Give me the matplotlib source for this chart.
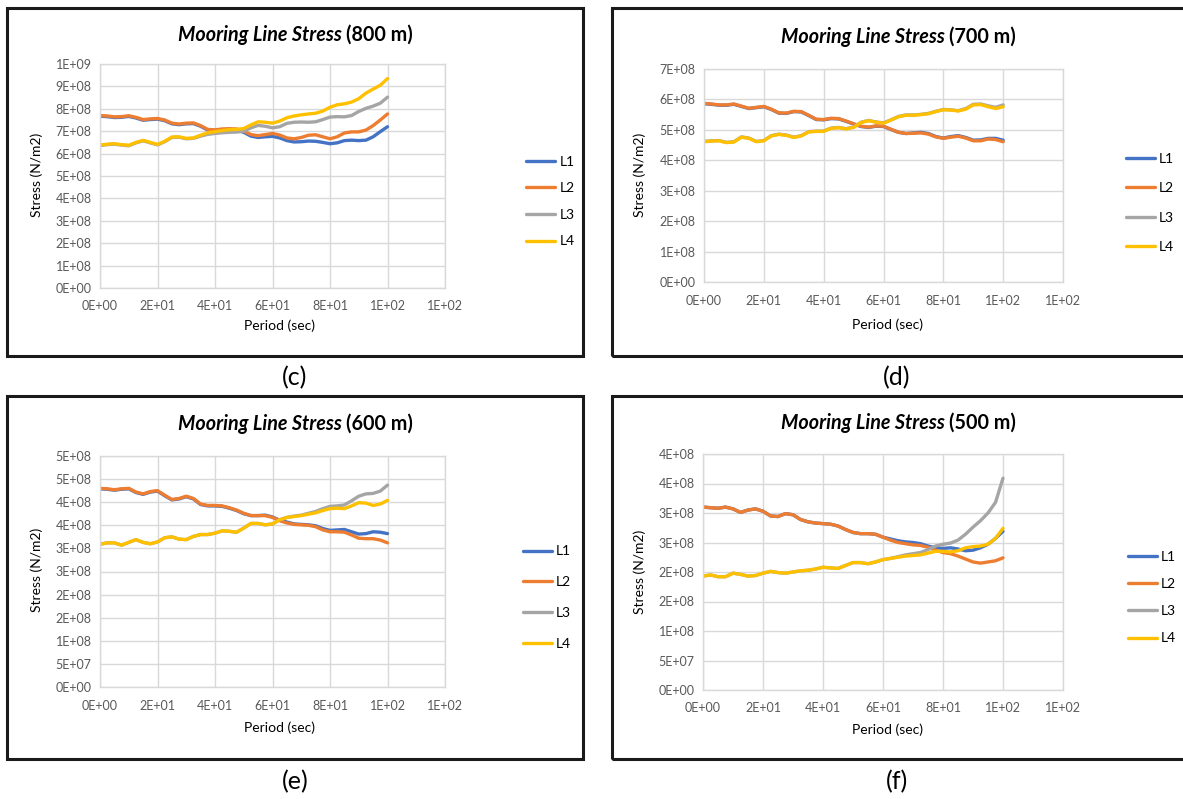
import matplotlib
matplotlib.use("Agg")
import matplotlib.pyplot as plt
from matplotlib.patches import Rectangle
from matplotlib.ticker import MultipleLocator, FuncFormatter
from matplotlib.offsetbox import TextArea, HPacker, AnnotationBbox
import math

plt.rcParams['font.family'] = ['Lato', 'DejaVu Sans']

# period (sec), shared by every series
period = [0, 2.5, 5, 7.5, 10, 12.5, 15, 17.5, 20, 22.5, 25, 27.5, 30, 32.5, 35,
          37.5, 40, 42.5, 45, 47.5, 50, 52.5, 55, 57.5, 60, 62.5, 65, 67.5, 70,
          72.5, 75, 77.5, 80, 82.5, 85, 87.5, 90, 92.5, 95, 97.5, 100]

line_names = ["L1", "L2", "L3", "L4"]
line_colors = ["#4472C4", "#ED7D31", "#A5A5A5", "#FFC000"]

# stress in units of 1e8 N/m2
# 800 m
l1_800 = [7.67, 7.65, 7.61, 7.62, 7.66, 7.59, 7.49, 7.52, 7.54, 7.47, 7.33, 7.29, 7.33, 7.34,
          7.22, 7.05, 7.03, 7.07, 7.08, 7.05, 6.95, 6.78, 6.72, 6.75, 6.77, 6.70, 6.58, 6.52,
          6.53, 6.56, 6.55, 6.50, 6.44, 6.48, 6.58, 6.60, 6.58, 6.60, 6.75, 6.98, 7.20]
l2_800 = [7.70, 7.68, 7.64, 7.65, 7.69, 7.62, 7.52, 7.55, 7.57, 7.50, 7.36, 7.32, 7.36, 7.37,
          7.25, 7.08, 7.06, 7.10, 7.11, 7.10, 7.00, 6.85, 6.80, 6.85, 6.90, 6.83, 6.70, 6.66,
          6.72, 6.82, 6.84, 6.75, 6.66, 6.75, 6.92, 6.97, 6.97, 7.05, 7.25, 7.50, 7.77]
l3_800 = [6.36, 6.40, 6.42, 6.38, 6.35, 6.48, 6.57, 6.48, 6.39, 6.53, 6.72, 6.73, 6.66, 6.68,
          6.78, 6.86, 6.90, 6.93, 6.95, 6.96, 7.00, 7.15, 7.26, 7.22, 7.15, 7.20, 7.35, 7.40,
          7.41, 7.40, 7.42, 7.52, 7.63, 7.65, 7.64, 7.70, 7.88, 8.02, 8.12, 8.25, 8.52]
l4_800 = [6.38, 6.42, 6.44, 6.40, 6.37, 6.50, 6.59, 6.50, 6.41, 6.55, 6.74, 6.75, 6.68, 6.70,
          6.82, 6.93, 6.98, 7.03, 7.07, 7.08, 7.12, 7.28, 7.42, 7.40, 7.36, 7.45, 7.60, 7.68,
          7.73, 7.77, 7.80, 7.90, 8.07, 8.18, 8.22, 8.30, 8.45, 8.70, 8.88, 9.05, 9.35]

# 700 m
l1_700 = [5.86, 5.84, 5.81, 5.81, 5.84, 5.77, 5.70, 5.73, 5.76, 5.67, 5.55, 5.54, 5.60, 5.59,
          5.47, 5.34, 5.33, 5.37, 5.36, 5.28, 5.19, 5.11, 5.08, 5.12, 5.11, 5.01, 4.92, 4.88,
          4.90, 4.92, 4.88, 4.78, 4.73, 4.78, 4.81, 4.75, 4.66, 4.67, 4.72, 4.72, 4.66]
l2_700 = [5.87, 5.85, 5.82, 5.82, 5.85, 5.78, 5.71, 5.74, 5.77, 5.68, 5.56, 5.55, 5.61, 5.60,
          5.48, 5.35, 5.34, 5.38, 5.37, 5.29, 5.20, 5.12, 5.09, 5.13, 5.12, 5.02, 4.92, 4.88,
          4.89, 4.90, 4.86, 4.77, 4.72, 4.76, 4.79, 4.73, 4.64, 4.64, 4.70, 4.68, 4.61]
l3_700 = [4.62, 4.64, 4.65, 4.59, 4.61, 4.77, 4.73, 4.62, 4.65, 4.81, 4.86, 4.83, 4.76, 4.81,
          4.94, 4.96, 4.96, 5.06, 5.08, 5.04, 5.09, 5.25, 5.31, 5.26, 5.23, 5.33, 5.44, 5.49,
          5.49, 5.51, 5.54, 5.61, 5.67, 5.66, 5.63, 5.70, 5.84, 5.85, 5.79, 5.74, 5.82]
l4_700 = [4.61, 4.63, 4.64, 4.58, 4.60, 4.76, 4.72, 4.61, 4.64, 4.80, 4.85, 4.82, 4.75, 4.80,
          4.93, 4.95, 4.95, 5.05, 5.07, 5.03, 5.08, 5.24, 5.30, 5.25, 5.22, 5.32, 5.43, 5.48,
          5.48, 5.50, 5.53, 5.60, 5.66, 5.65, 5.62, 5.68, 5.82, 5.83, 5.76, 5.70, 5.76]

# 600 m
l1_600 = [4.29, 4.28, 4.26, 4.28, 4.29, 4.21, 4.17, 4.22, 4.24, 4.14, 4.05, 4.07, 4.12, 4.07,
          3.95, 3.92, 3.92, 3.91, 3.87, 3.82, 3.75, 3.71, 3.71, 3.72, 3.68, 3.61, 3.57, 3.53,
          3.52, 3.51, 3.49, 3.43, 3.39, 3.40, 3.41, 3.36, 3.31, 3.32, 3.36, 3.35, 3.32]
l2_600 = [4.30, 4.29, 4.27, 4.29, 4.30, 4.22, 4.18, 4.23, 4.25, 4.15, 4.06, 4.08, 4.13, 4.08,
          3.96, 3.93, 3.93, 3.92, 3.88, 3.83, 3.76, 3.71, 3.71, 3.71, 3.67, 3.60, 3.55, 3.52,
          3.51, 3.50, 3.47, 3.40, 3.36, 3.36, 3.35, 3.29, 3.22, 3.21, 3.21, 3.18, 3.12]
l3_600 = [3.09, 3.12, 3.12, 3.07, 3.13, 3.19, 3.13, 3.10, 3.14, 3.23, 3.25, 3.20, 3.19, 3.26,
          3.30, 3.30, 3.33, 3.38, 3.37, 3.35, 3.44, 3.54, 3.54, 3.51, 3.53, 3.62, 3.67, 3.70,
          3.72, 3.76, 3.80, 3.86, 3.91, 3.92, 3.94, 4.03, 4.13, 4.18, 4.19, 4.24, 4.37]
l4_600 = [3.09, 3.12, 3.12, 3.07, 3.13, 3.19, 3.13, 3.10, 3.14, 3.23, 3.25, 3.20, 3.19, 3.26,
          3.30, 3.30, 3.33, 3.38, 3.37, 3.35, 3.44, 3.54, 3.54, 3.51, 3.53, 3.62, 3.67, 3.69,
          3.71, 3.74, 3.77, 3.82, 3.86, 3.87, 3.86, 3.92, 3.99, 3.98, 3.93, 3.96, 4.04]

# 500 m
l1_500 = [3.10, 3.09, 3.08, 3.10, 3.07, 3.01, 3.05, 3.07, 3.03, 2.95, 2.94, 2.99, 2.97, 2.89,
          2.85, 2.83, 2.82, 2.81, 2.78, 2.72, 2.67, 2.65, 2.65, 2.64, 2.59, 2.56, 2.53, 2.51,
          2.50, 2.48, 2.44, 2.41, 2.40, 2.41, 2.39, 2.36, 2.37, 2.41, 2.47, 2.57, 2.69]
l2_500 = [3.10, 3.09, 3.08, 3.10, 3.07, 3.01, 3.05, 3.07, 3.03, 2.95, 2.94, 2.99, 2.97, 2.89,
          2.85, 2.83, 2.82, 2.81, 2.78, 2.72, 2.67, 2.65, 2.65, 2.64, 2.59, 2.54, 2.50, 2.48,
          2.46, 2.45, 2.42, 2.37, 2.33, 2.31, 2.27, 2.22, 2.17, 2.15, 2.17, 2.19, 2.24]
l3_500 = [1.93, 1.95, 1.92, 1.92, 1.98, 1.96, 1.93, 1.94, 1.98, 2.01, 1.99, 1.98, 2.00, 2.02,
          2.03, 2.05, 2.08, 2.07, 2.06, 2.11, 2.16, 2.16, 2.14, 2.17, 2.21, 2.23, 2.26, 2.29,
          2.31, 2.33, 2.38, 2.44, 2.47, 2.49, 2.54, 2.64, 2.76, 2.87, 3.00, 3.18, 3.59]
l4_500 = [1.93, 1.95, 1.92, 1.92, 1.98, 1.96, 1.93, 1.94, 1.98, 2.01, 1.99, 1.98, 2.00, 2.02,
          2.03, 2.05, 2.08, 2.07, 2.06, 2.11, 2.16, 2.16, 2.14, 2.17, 2.21, 2.23, 2.25, 2.27,
          2.28, 2.29, 2.32, 2.35, 2.35, 2.34, 2.36, 2.41, 2.43, 2.44, 2.47, 2.57, 2.74]

depth_labels = ["800 m", "700 m", "600 m", "500 m"]
captions = ["(c)", "(d)", "(e)", "(f)"]
panel_series = [[l1_800, l2_800, l3_800, l4_800],
                [l1_700, l2_700, l3_700, l4_700],
                [l1_600, l2_600, l3_600, l4_600],
                [l1_500, l2_500, l3_500, l4_500]]
y_max = [1e9, 7e8, 5e8, 4e8]
y_step = [1e8, 1e8, 5e7, 5e7]

W, H = 1183, 799


def sci0(v, pos=None):
    # "0E+00" number format, mantissa rounded half up
    v = float(v)
    if abs(v) < 1e-9:
        return "0E+00"
    e = int(math.floor(math.log10(abs(v))))
    m = int(math.floor(v / 10 ** e + 0.5 + 1e-9))
    if m == 10:
        m, e = 1, e + 1
    return f"{m}E{e:+03d}"


def fx(px):
    return px / W


def fy(py):
    return 1 - py / H


fig = plt.figure(figsize=(W / 100, H / 100), dpi=100)
fig.patch.set_facecolor("white")

# pixel layout of each panel: frame (x0, x1, y0, y1), plot (left, right, top, bottom)
frames = [(7, 583, 8, 356), (612, 1190, 8, 356), (7, 583, 396, 759), (612, 1190, 396, 759)]
plots = [(100, 445, 64, 288), (704, 1063, 69, 282), (100, 445, 456, 687), (703, 1063, 454, 690)]
title_xy = [(295, 35), (898, 37), (295, 424), (898, 423)]
xlabel_xy = [(279, 326), (888, 325), (279, 728), (888, 730)]
ylabel_xy = [(37, 175), (640, 175), (37, 570), (640, 572)]
caption_xy = [(295, 378), (897, 378), (295, 782), (897, 782)]
legend_y = [0.386, 0.371, 0.387, 0.392]
legend_x = [1.215, 1.155, 1.205, 1.16]
legend_gap = [1.05, 1.25, 1.35, 1.1]

for i in range(4):
    x0, x1, y0, y1 = frames[i]
    fig.add_artist(Rectangle((fx(x0), fy(y1)), fx(x1 - x0), (y1 - y0) / H,
                             transform=fig.transFigure, fill=False,
                             edgecolor="#1a1a1a", linewidth=2.2))

    pl, pr, pt, pb = plots[i]
    ax = fig.add_axes([fx(pl), fy(pb), fx(pr - pl), (pb - pt) / H])
    for s, name, c in zip(panel_series[i], line_names, line_colors):
        ax.plot(period, [v * 1e8 for v in s], color=c, lw=2.4, label=name,
                solid_capstyle="round")

    ax.set_xlim(0, 120)
    ax.set_ylim(0, y_max[i])
    ax.xaxis.set_major_locator(MultipleLocator(20))
    ax.yaxis.set_major_locator(MultipleLocator(y_step[i]))
    ax.xaxis.set_major_formatter(FuncFormatter(sci0))
    ax.yaxis.set_major_formatter(FuncFormatter(sci0))
    ax.grid(True, color="#D9D9D9", lw=1)
    ax.set_axisbelow(True)
    for sp in ax.spines.values():
        sp.set_color("#D9D9D9")
        sp.set_linewidth(1)
    ax.tick_params(length=0, labelsize=9, labelcolor="#595959")
    ax.tick_params(axis="x", pad=9)
    ax.tick_params(axis="y", pad=6)

    ax.legend(loc="center left", bbox_to_anchor=(legend_x[i], legend_y[i]),
              frameon=False, fontsize=10, borderpad=0, handlelength=2.1,
              handletextpad=0.3, labelspacing=legend_gap[i])

    tx, ty = title_xy[i]
    t1 = TextArea("Mooring Line Stress",
                  textprops=dict(fontsize=14.2, fontweight="bold", fontstyle="italic"))
    t2 = TextArea("(" + depth_labels[i] + ")",
                  textprops=dict(fontsize=14.2, fontweight="bold"))
    pack = HPacker(children=[t1, t2], align="baseline", pad=0, sep=3)
    fig.add_artist(AnnotationBbox(pack, (fx(tx), fy(ty)), xycoords="figure fraction",
                                  frameon=False, box_alignment=(0.5, 0.5)))

    lx, ly = xlabel_xy[i]
    fig.text(fx(lx), fy(ly), "Period (sec)", ha="center", va="center", fontsize=10)
    sx, sy = ylabel_xy[i]
    fig.text(fx(sx), fy(sy), "Stress (N/m2)", ha="center", va="center",
             rotation=90, fontsize=10)
    cx, cy = caption_xy[i]
    fig.text(fx(cx), fy(cy), captions[i], ha="center", va="center", fontsize=18)

fig.savefig("out.png", dpi=100)
